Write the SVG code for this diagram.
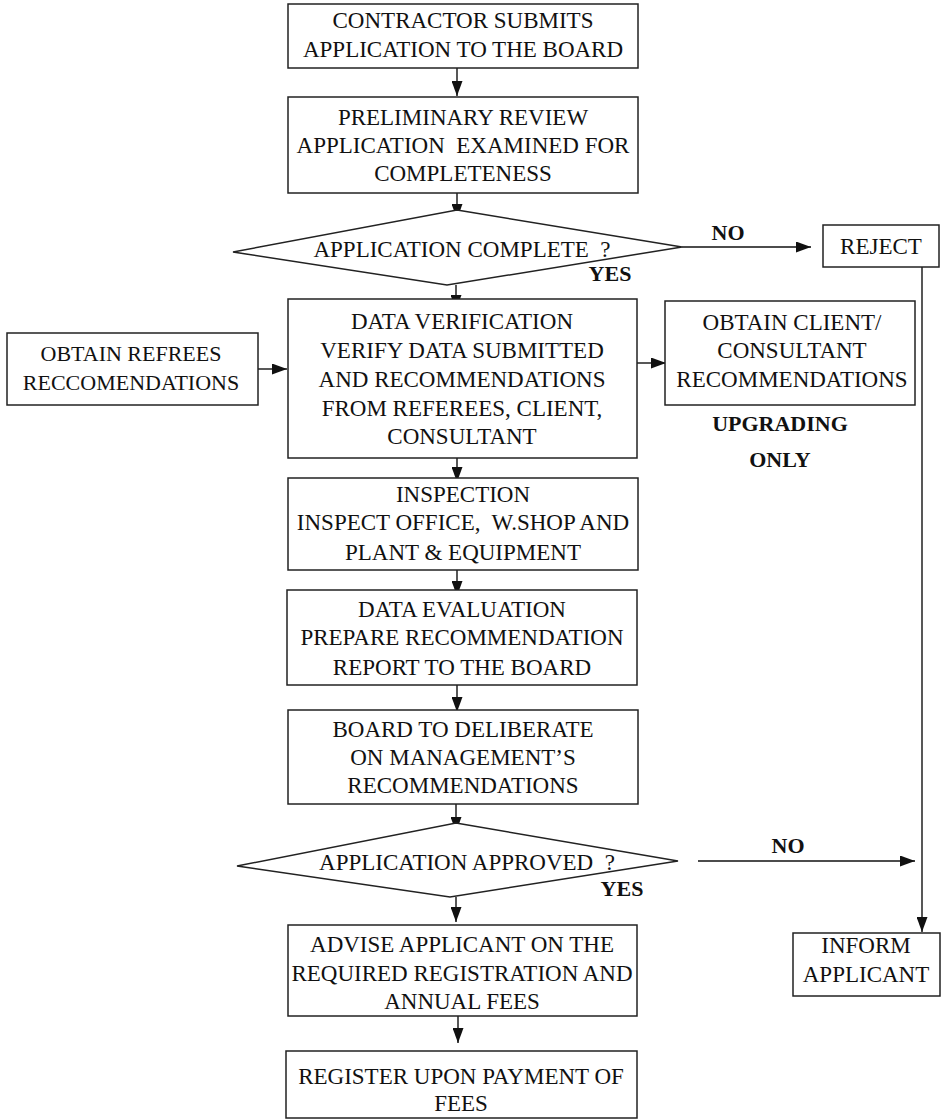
<svg xmlns="http://www.w3.org/2000/svg" width="944" height="1119" viewBox="0 0 944 1119">
<style>
.bx{fill:#fff;stroke:#222;stroke-width:1.5}
.t{font-family:"Liberation Serif","Times New Roman",serif;font-size:23px;fill:#111;text-anchor:middle;white-space:pre}
.s{font-size:22px}
.b{font-family:"Liberation Serif","Times New Roman",serif;font-size:22px;font-weight:bold;fill:#111;text-anchor:middle}
.c{fill:none;stroke:#111;stroke-width:1.4}
</style>
<defs>
<marker id="ah" viewBox="0 0 15 11" refX="15" refY="5.5" markerWidth="15" markerHeight="11" markerUnits="userSpaceOnUse" orient="auto">
<path d="M0,0 L15,5.5 L0,11 z" fill="#111"/>
</marker>
</defs>
<rect width="944" height="1119" fill="#fff"/>
<g id="connectors">
<line class="c" x1="457" y1="68" x2="457" y2="96" marker-end="url(#ah)"/>
<line class="c" x1="457" y1="193" x2="457" y2="219" marker-end="url(#ah)"/>
<line class="c" x1="456" y1="285" x2="456" y2="310" marker-end="url(#ah)"/>
<line class="c" x1="457" y1="458" x2="457" y2="482" marker-end="url(#ah)"/>
<line class="c" x1="457" y1="570" x2="457" y2="596" marker-end="url(#ah)"/>
<line class="c" x1="457" y1="685" x2="457" y2="712" marker-end="url(#ah)"/>
<line class="c" x1="456" y1="804" x2="456" y2="832" marker-end="url(#ah)"/>
<line class="c" x1="456" y1="897" x2="456" y2="922" marker-end="url(#ah)"/>
<line class="c" x1="458" y1="1016" x2="458" y2="1043" marker-end="url(#ah)"/>
<line class="c" x1="682" y1="247" x2="811" y2="247" marker-end="url(#ah)"/>
<line class="c" x1="637" y1="363" x2="666" y2="363" marker-end="url(#ah)"/>
<line class="c" x1="258" y1="369" x2="287" y2="369" marker-end="url(#ah)"/>
<line class="c" x1="698" y1="861" x2="915" y2="861" marker-end="url(#ah)"/>
<line class="c" x1="922" y1="267" x2="922" y2="932" marker-end="url(#ah)"/>
</g>
<g id="n1">
<rect class="bx" x="288" y="4" width="350" height="64"/>
<text class="t" x="463" y="28">CONTRACTOR SUBMITS</text>
<text class="t" x="463" y="57">APPLICATION TO THE BOARD</text>
</g>
<g id="n2">
<rect class="bx" x="288" y="97" width="350" height="96"/>
<text class="t" x="463" y="125">PRELIMINARY REVIEW</text>
<text class="t" x="463" y="153">APPLICATION  EXAMINED FOR</text>
<text class="t" x="463" y="181">COMPLETENESS</text>
</g>
<g id="d1">
<polygon class="bx" points="457,210 682,247 447,285 233,252"/>
<text class="t" x="462" y="257">APPLICATION COMPLETE  ?</text>
<text class="b" x="610" y="281">YES</text>
<text class="b" x="728" y="240">NO</text>
</g>
<g id="reject">
<rect class="bx" x="823" y="225" width="116" height="42"/>
<text class="t" x="881" y="254">REJECT</text>
</g>
<g id="n3">
<rect class="bx" x="288" y="299" width="349" height="159"/>
<text class="t" x="462" y="329">DATA VERIFICATION</text>
<text class="t" x="462" y="358">VERIFY DATA SUBMITTED</text>
<text class="t" x="462" y="387">AND RECOMMENDATIONS</text>
<text class="t" x="462" y="416">FROM REFEREES, CLIENT,</text>
<text class="t" x="462" y="444">CONSULTANT</text>
</g>
<g id="referees">
<rect class="bx" x="7" y="333" width="251" height="72"/>
<text class="t s" x="131" y="361">OBTAIN REFREES</text>
<text class="t s" x="131" y="390">RECCOMENDATIONS</text>
</g>
<g id="client">
<rect class="bx" x="665" y="301" width="250" height="104"/>
<text class="t" x="792" y="330">OBTAIN CLIENT/</text>
<text class="t" x="792" y="358">CONSULTANT</text>
<text class="t" x="792" y="387">RECOMMENDATIONS</text>
<text class="b" x="780" y="431">UPGRADING</text>
<text class="b" x="780" y="467">ONLY</text>
</g>
<g id="n4">
<rect class="bx" x="288" y="478" width="350" height="92"/>
<text class="t" x="463" y="502">INSPECTION</text>
<text class="t" x="463" y="530">INSPECT OFFICE,  W.SHOP AND</text>
<text class="t" x="463" y="560">PLANT &amp; EQUIPMENT</text>
</g>
<g id="n5">
<rect class="bx" x="287" y="590" width="350" height="95"/>
<text class="t" x="462" y="617">DATA EVALUATION</text>
<text class="t" x="462" y="645">PREPARE RECOMMENDATION</text>
<text class="t" x="462" y="675">REPORT TO THE BOARD</text>
</g>
<g id="n6">
<rect class="bx" x="288" y="710" width="350" height="94"/>
<text class="t" x="463" y="737">BOARD TO DELIBERATE</text>
<text class="t" x="463" y="765">ON MANAGEMENT’S</text>
<text class="t" x="463" y="793">RECOMMENDATIONS</text>
</g>
<g id="d2">
<polygon class="bx" points="456,823 678,861 450,897 237,866"/>
<text class="t" x="467" y="870">APPLICATION APPROVED  ?</text>
<text class="b" x="622" y="896">YES</text>
<text class="b" x="788" y="853">NO</text>
</g>
<g id="inform">
<rect class="bx" x="793" y="933" width="147" height="63"/>
<text class="t" x="866" y="953">INFORM</text>
<text class="t" x="866" y="982">APPLICANT</text>
</g>
<g id="n7">
<rect class="bx" x="288" y="925" width="349" height="91"/>
<text class="t" x="462" y="952">ADVISE APPLICANT ON THE</text>
<text class="t" x="462" y="981">REQUIRED REGISTRATION AND</text>
<text class="t" x="462" y="1009">ANNUAL FEES</text>
</g>
<g id="n8">
<rect class="bx" x="286" y="1051" width="351" height="67"/>
<text class="t" x="461" y="1084">REGISTER UPON PAYMENT OF</text>
<text class="t" x="461" y="1111">FEES</text>
</g>
</svg>
